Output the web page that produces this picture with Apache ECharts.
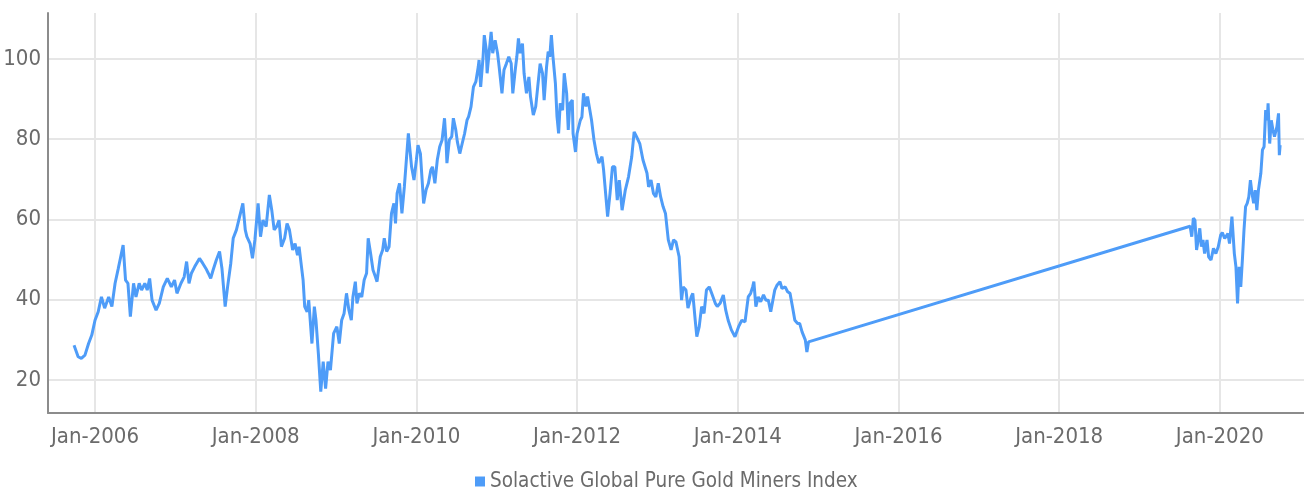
<!DOCTYPE html>
<html>
<head>
<meta charset="utf-8">
<script src="https://cdn.jsdelivr.net/npm/echarts@6/dist/echarts.min.js"></script>
<style>
html,body{margin:0;padding:0;background:#fff;}
#chart{width:1304px;height:496px;}
</style>
</head>
<body>
<div id="chart"></div>
<script>
// Time positions as decimal years, and index values
const years = [
  2005.739,2005.79,2005.83,2005.875,2005.92,2005.96,2006.00,2006.04,2006.08,2006.12,
  2006.17,2006.21,2006.25,2006.29,2006.32,2006.35,2006.38,2006.41,2006.44,2006.48,
  2006.51,2006.55,2006.58,2006.62,2006.65,2006.68,2006.71,2006.76,2006.80,2006.85,
  2006.90,2006.95,2006.99,2007.02,2007.07,2007.11,2007.14,2007.17,2007.20,2007.24,
  2007.30,2007.34,2007.38,2007.41,2007.44,2007.47,2007.51,2007.55,2007.58,2007.62,
  2007.65,2007.69,2007.72,2007.76,2007.80,2007.84,2007.87,2007.89,2007.93,2007.96,
  2007.99,2008.03,2008.06,2008.09,2008.13,2008.17,2008.20,2008.23,2008.26,2008.29,
  2008.32,2008.36,2008.39,2008.42,2008.46,2008.49,2008.52,2008.54,2008.57,2008.59,
  2008.61,2008.64,2008.66,2008.70,2008.73,2008.75,2008.78,2008.81,2008.84,2008.87,
  2008.90,2008.93,2008.97,2009.01,2009.04,2009.07,2009.10,2009.13,2009.16,2009.19,
  2009.21,2009.24,2009.26,2009.29,2009.32,2009.35,2009.38,2009.40,2009.43,2009.46,
  2009.49,2009.51,2009.55,2009.58,2009.60,2009.63,2009.66,2009.69,2009.72,2009.74,
  2009.76,2009.79,2009.82,2009.85,2009.90,2009.92,2009.94,2009.97,2010.00,2010.02,
  2010.05,2010.09,2010.12,2010.15,2010.18,2010.20,2010.23,2010.26,2010.29,2010.32,
  2010.35,2010.37,2010.38,2010.41,2010.44,2010.46,2010.49,2010.51,2010.54,2010.57,
  2010.60,2010.63,2010.65,2010.68,2010.71,2010.74,2010.77,2010.78,2010.80,2010.83,
  2010.845,2010.87,2010.88,2010.90,2010.93,2010.95,2010.98,2011.01,2011.03,2011.065,
  2011.09,2011.12,2011.15,2011.18,2011.20,2011.23,2011.25,2011.27,2011.29,2011.32,
  2011.34,2011.37,2011.40,2011.42,2011.455,2011.485,2011.51,2011.54,2011.57,2011.59,
  2011.62,2011.64,2011.66,2011.68,2011.70,2011.73,2011.75,2011.77,2011.79,2011.82,
  2011.84,2011.87,2011.89,2011.91,2011.94,2011.95,2011.98,2012.00,2012.04,2012.06,
  2012.08,2012.11,2012.13,2012.15,2012.18,2012.21,2012.24,2012.27,2012.31,2012.33,
  2012.38,2012.41,2012.44,2012.47,2012.50,2012.525,2012.56,2012.60,2012.64,2012.68,
  2012.71,2012.74,2012.78,2012.82,2012.87,2012.89,2012.92,2012.95,2012.98,2013.01,
  2013.04,2013.07,2013.10,2013.135,2013.17,2013.20,2013.23,2013.27,2013.30,2013.32,
  2013.355,2013.38,2013.42,2013.44,2013.47,2013.49,2013.52,2013.55,2013.58,2013.61,
  2013.645,2013.675,2013.72,2013.745,2013.78,2013.82,2013.85,2013.88,2013.92,2013.965,
  2014.01,2014.02,2014.05,2014.09,2014.13,2014.16,2014.185,2014.20,2014.225,2014.255,
  2014.285,2014.32,2014.35,2014.38,2014.41,2014.43,2014.46,2014.49,2014.525,2014.55,
  2014.59,2014.62,2014.65,2014.68,2014.71,2014.745,2014.77,2014.80,2014.84,2014.86,
  2014.88,
  2019.63,2019.65,2019.67,2019.69,2019.71,2019.73,2019.75,2019.77,2019.79,2019.81,
  2019.84,2019.86,2019.89,2019.92,2019.95,2019.98,2020.01,2020.03,2020.06,2020.10,
  2020.12,2020.15,2020.18,2020.20,2020.22,2020.24,2020.26,2020.28,2020.30,2020.32,
  2020.34,2020.36,2020.38,2020.40,2020.42,2020.44,2020.46,2020.48,2020.51,2020.53,
  2020.55,2020.57,2020.59,2020.60,2020.62,2020.64,2020.66,2020.68,2020.71,2020.73,
  2020.74,2020.75
];
const indexValues = [
  28.7,25.8,25.4,26.2,29.1,31.2,34.9,37.0,40.7,37.9,
  40.7,38.3,44.1,47.8,50.7,53.6,44.9,44.1,35.8,44.1,
  40.7,44.1,42.4,44.1,42.4,45.3,39.9,37.4,39.1,43.2,
  45.3,43.2,44.9,41.6,44.1,45.7,49.5,44.1,46.6,48.2,
  50.3,49.1,47.8,46.6,45.3,47.4,49.9,52.0,47.8,38.3,
  43.2,49.1,55.3,57.4,60.7,64.0,57.4,55.7,54.0,50.3,
  54.9,64.0,55.7,59.8,58.2,66.1,62.3,57.4,58.2,59.8,
  53.2,55.3,59.0,57.4,52.4,54.0,51.1,53.2,48.2,44.9,
  38.3,37.0,39.9,29.1,38.3,34.9,26.6,17.1,24.6,17.9,
  24.6,22.5,31.6,33.3,29.1,34.9,36.6,41.6,37.4,34.9,
  40.7,44.5,39.1,41.6,40.7,44.9,46.6,55.3,51.5,47.4,
  45.7,44.5,50.7,52.4,55.3,52.0,53.2,61.5,64.0,59.0,
  66.5,69.0,61.5,68.1,81.4,81.8,73.1,69.8,74.8,78.5,
  76.4,64.0,67.3,69.0,72.3,73.1,69.0,74.8,78.1,79.8,
  85.2,78.9,74.0,79.8,80.6,85.2,82.3,79.3,76.4,78.9,
  81.4,84.7,85.6,88.1,93.0,94.3,98.0,99.7,93.0,100.5,
  105.9,102.2,96.4,100.5,106.7,101.4,104.6,101.4,98.0,91.4,
  97.2,98.8,100.5,98.8,91.4,97.2,100.5,105.1,101.4,103.8,
  96.4,91.4,95.5,90.6,86.0,88.1,93.0,98.8,96.4,89.7,
  98.0,101.8,100.5,105.9,100.5,93.9,85.6,81.4,88.9,87.2,
  96.4,91.4,82.3,88.9,89.7,81.4,76.8,81.4,84.7,85.5,
  91.4,88.1,90.6,91.0,84.7,79.8,76.4,74.0,75.6,72.3,
  60.7,66.5,73.1,73.1,64.8,69.8,62.3,67.3,70.6,75.6,
  81.8,80.6,78.9,74.8,71.5,68.1,69.8,66.5,65.6,69.0,
  65.6,63.2,61.5,54.9,52.4,54.9,54.4,50.7,39.9,43.2,
  42.4,37.9,40.7,41.6,34.9,30.8,33.3,38.3,36.6,42.4,
  43.2,41.6,39.1,38.3,39.1,41.2,37.4,34.9,32.5,30.8,
  33.3,33.3,34.9,34.5,40.7,41.6,43.2,44.5,38.3,40.7,
  39.5,41.2,39.9,39.9,37.0,37.4,42.4,43.7,44.5,42.8,
  43.2,42.0,41.6,38.3,34.9,34.1,34.1,32.0,30.0,27.0,
  29.5,
  58.3,55.7,60.3,59.8,52.4,54.9,57.8,53.2,54.9,51.5,
  54.9,50.7,49.9,52.8,51.5,53.2,56.1,56.7,55.3,56.5,
  54.0,60.7,51.5,48.2,39.1,48.2,43.2,49.9,57.3,63.2,
  64.0,65.6,69.8,66.5,64.0,67.3,62.3,67.3,71.5,77.3,
  78.1,87.2,84.7,88.9,78.9,84.7,82.3,80.6,83.1,86.4,
  76.0,78.5
];
const seriesName = 'Solactive Global Pure Gold Miners Index';
const yTickStep = 20;
const xTickStepYears = 2;

const textColor = '#6b6b6b';
const fontFamily = "'Liberation Sans Narrow','DejaVu Sans Condensed','Roboto',sans-serif";

const chart = echarts.init(document.getElementById('chart'), null, {renderer: 'canvas'});
chart.setOption({
  animation: false,
  backgroundColor: '#ffffff',
  textStyle: {fontFamily: fontFamily},
  grid: {left: 48, right: 0, top: 13, bottom: 83},
  legend: {
    data: [seriesName],
    icon: 'rect',
    itemWidth: 10,
    itemHeight: 10,
    left: 475,
    top: 471,
    padding: 0,
    textStyle: {fontSize: 20.5, color: textColor, fontFamily: fontFamily}
  },
  xAxis: {
    type: 'value',
    min: 2005.415,
    max: 2021.047,
    splitNumber: 8,
    minInterval: xTickStepYears,
    maxInterval: xTickStepYears,
    axisLine: {show: true, lineStyle: {color: '#8c8c8c', width: 2}},
    axisTick: {show: false},
    axisLabel: {
      showMinLabel: false,
      showMaxLabel: false,
      fontSize: 22,
      color: textColor,
      margin: 13,
      formatter: v => 'Jan-' + Math.round(v)
    },
    splitLine: {show: true, showMinLine: false, showMaxLine: false, lineStyle: {color: '#e6e6e6', width: 2}}
  },
  yAxis: {
    type: 'value',
    min: 11.8,
    max: 111.4,
    splitNumber: 5,
    minInterval: yTickStep,
    maxInterval: yTickStep,
    axisLine: {show: true, lineStyle: {color: '#8c8c8c', width: 2}},
    axisTick: {show: false},
    axisLabel: {
      showMinLabel: false,
      showMaxLabel: false,
      fontSize: 22,
      color: textColor,
      margin: 7
    },
    splitLine: {show: true, showMinLine: false, showMaxLine: false, lineStyle: {color: '#e6e6e6', width: 2}}
  },
  series: [{
    name: seriesName,
    type: 'line',
    showSymbol: false,
    symbol: 'none',
    color: '#4e9cf8',
    lineStyle: {color: '#4e9cf8', width: 3},
    data: years.map((y, i) => [y, indexValues[i]])
  }]
});
</script>
</body>
</html>
